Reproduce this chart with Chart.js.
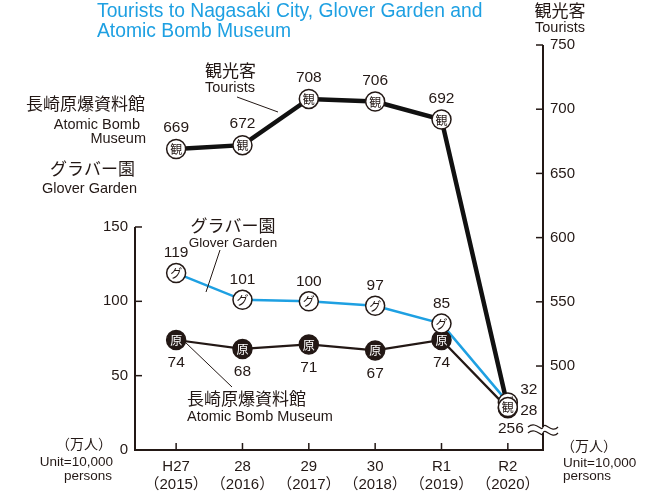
<!DOCTYPE html>
<html>
<head>
<meta charset="utf-8">
<script src="https://cdn.jsdelivr.net/npm/chart.js@4.4.1/dist/chart.umd.min.js"></script>
<style>
  html, body { margin: 0; padding: 0; background: #fff; }
  #wrap { width: 648px; height: 496px; position: relative; }
</style>
</head>
<body>
<div id="wrap"><canvas id="chart" width="648" height="496"></canvas></div>
<script>
// 年度と値（万人）
const years    = ['H27', '28', '29', '30', 'R1', 'R2'];
const yearsAD  = ['2015', '2016', '2017', '2018', '2019', '2020'];
const tourists = [669, 672, 708, 706, 692, 256];
const glover   = [119, 101, 100, 97, 85, 32];
const atomic   = [74, 68, 71, 67, 74, 28];
const leftTicks  = [0, 50, 100, 150];
const rightTicks = [500, 550, 600, 650, 700, 750];
// 右軸は 500 未満が省略（波線）なので、それ以下の値はこの位置に置く
const rightBreakAt = 468;

const INK  = '#231815';
const BLUE = '#1ea0e2';
const JP = '"Liberation Sans", "Noto Sans CJK JP", sans-serif';

const pts = (arr, brk) => arr.map((v, i) => ({ x: i, y: brk && v < 500 ? rightBreakAt : v }));

// 丸印（観・グ・原）
const markers = {
  id: 'markers',
  afterDatasetsDraw(chart) {
    const ctx = chart.ctx;
    const spec = [
      { ds: 2, ch: '原', fill: INK, ink: '#fff', r: 9.5 },
      { ds: 1, ch: 'グ', fill: '#fff', ink: INK, r: 9.5 },
      { ds: 0, ch: '観', fill: '#fff', ink: INK, r: 9.5 },
    ];
    ctx.save();
    spec.forEach(m => {
      chart.getDatasetMeta(m.ds).data.forEach(p => {
        ctx.beginPath();
        ctx.arc(p.x, p.y, m.r, 0, Math.PI * 2);
        ctx.fillStyle = m.fill; ctx.fill();
        ctx.lineWidth = 1.5; ctx.strokeStyle = INK; ctx.stroke();
        ctx.fillStyle = m.ink;
        ctx.font = '12px "Noto Sans CJK JP"';
        ctx.textAlign = 'center'; ctx.textBaseline = 'middle';
        ctx.fillText(m.ch, p.x, p.y + 0.5);
      });
    });
    ctx.restore();
  }
};

// 値ラベル・注記・軸を描く
const decor = {
  id: 'decor',
  afterDraw(chart) {
    const ctx = chart.ctx;
    const { x, y, y2 } = chart.scales;
    const area = chart.chartArea;
    const txt = (s, px, py, size, align, color) => {
      ctx.font = size + 'px ' + JP;
      ctx.fillStyle = color || INK;
      ctx.textAlign = align || 'center';
      ctx.textBaseline = 'middle';
      ctx.fillText(s, px, py);
    };
    const line = (x1, y1, x2, y2_, w) => {
      ctx.beginPath(); ctx.moveTo(x1, y1); ctx.lineTo(x2, y2_);
      ctx.lineWidth = w || 1; ctx.strokeStyle = INK; ctx.stroke();
    };
    ctx.save();

    // axes
    const yTop = y.getPixelForValue(150), y2Top = y2.getPixelForValue(750);
    line(area.left, yTop, area.left, area.bottom, 2);
    line(area.right, y2Top, area.right, area.bottom, 2);
    line(area.left - 1, area.bottom, area.right + 1, area.bottom, 2);
    leftTicks.forEach(v => { const p = y.getPixelForValue(v); line(area.left, p, area.left + 7, p, 1.5); });
    rightTicks.forEach(v => { const p = y2.getPixelForValue(v); line(area.right - 7, p, area.right, p, 1.5); });
    years.forEach((_, i) => { const p = x.getPixelForValue(i); line(p, area.bottom, p, area.bottom - 7, 1.5); });

    // axis break on the right scale
    const by = 430, bx1 = area.right - 15, bx2 = area.right + 15;
    const wave = (oy) => {
      ctx.beginPath();
      ctx.moveTo(bx1, oy);
      ctx.bezierCurveTo(bx1 + 8, oy - 7, bx1 + 14, oy + 6, bx1 + 15, oy);
      ctx.bezierCurveTo(bx1 + 17, oy - 6, bx2 - 6, oy + 7, bx2, oy);
    };
    ctx.fillStyle = '#fff';
    ctx.fillRect(area.right - 2, by - 3, 4, 6);
    ctx.lineWidth = 1.2; ctx.strokeStyle = INK;
    wave(by - 3); ctx.stroke();
    wave(by + 3); ctx.stroke();

    // value labels
    const metaT = chart.getDatasetMeta(0).data;
    const metaG = chart.getDatasetMeta(1).data;
    const metaA = chart.getDatasetMeta(2).data;
    tourists.forEach((v, i) => {
      const p = metaT[i];
      if (i === 5) txt(String(v), p.x + 3, p.y + 22, 15.5);
      else txt(String(v), p.x, p.y - 21, 15.5);
    });
    glover.forEach((v, i) => {
      const p = metaG[i];
      if (i === 5) txt(String(v), p.x + 21, p.y - 13, 15.5);
      else txt(String(v), p.x, p.y - 20, 15.5);
    });
    atomic.forEach((v, i) => {
      const p = metaA[i];
      if (i === 5) txt(String(v), p.x + 21, p.y + 2, 15.5);
      else txt(String(v), p.x, p.y + 23, 15.5);
    });

    // title
    txt('Tourists to Nagasaki City, Glover Garden and', 97, 12, 19.3, 'left', BLUE);
    txt('Atomic Bomb Museum', 97, 32, 19.3, 'left', BLUE);

    // axis titles
    txt('観光客', 560, 12, 17);
    txt('Tourists', 560, 28, 14.5);
    txt('長崎原爆資料館', 145, 105, 17, 'right');
    txt('Atomic Bomb', 140, 125, 14.5, 'right');
    txt('Museum', 146, 139, 14.5, 'right');
    txt('グラバー園', 135, 170, 17, 'right');
    txt('Glover Garden', 137, 189, 14.5, 'right');

    // series notes with leaders
    txt('観光客', 205, 72, 17, 'left');
    txt('Tourists', 205, 88, 14.5, 'left');
    line(237, 97, 278, 112);
    txt('グラバー園', 233, 227, 17);
    txt('Glover Garden', 233, 243, 13.5);
    line(220, 250, 206, 292);
    txt('長崎原爆資料館', 187, 400, 17, 'left');
    txt('Atomic Bomb Museum', 187, 417, 14.5, 'left');
    line(185, 342, 232, 387);

    // units
    txt('（万人）', 84, 445, 14);
    txt('Unit=10,000', 113, 462, 13.5, 'right');
    txt('persons', 112, 476, 13.5, 'right');
    txt('（万人）', 589, 447, 14);
    txt('Unit=10,000', 563, 463, 13.5, 'left');
    txt('persons', 563, 476, 13.5, 'left');
    ctx.restore();
  }
};

const bg = {
  id: 'bg',
  beforeDraw(chart) {
    const ctx = chart.ctx;
    ctx.save(); ctx.fillStyle = '#fff';
    ctx.fillRect(0, 0, chart.width, chart.height);
    ctx.restore();
  }
};

new Chart(document.getElementById('chart'), {
  type: 'line',
  data: {
    datasets: [
      {
        label: '観光客 Tourists',
        data: pts(tourists, true),
        yAxisID: 'y2',
        borderColor: '#111',
        borderWidth: 4.5,
        pointRadius: 0,
      },
      {
        label: 'グラバー園 Glover Garden',
        data: pts(glover),
        yAxisID: 'y',
        borderColor: BLUE,
        borderWidth: 2.5,
        pointRadius: 0,
      },
      {
        label: '長崎原爆資料館 Atomic Bomb Museum',
        data: pts(atomic),
        yAxisID: 'y',
        borderColor: INK,
        borderWidth: 2.2,
        pointRadius: 0,
      },
    ]
  },
  options: {
    responsive: false,
    animation: false,
    layout: { padding: { top: 45, left: 0, right: 0, bottom: 0 } },
    plugins: { legend: { display: false }, tooltip: { enabled: false } },
    scales: {
      x: {
        type: 'linear',
        min: -0.62,
        max: 5.53,
        afterBuildTicks: s => { s.ticks = years.map((_, i) => ({ value: i })); },
        afterFit: s => { s.height = 46; },
        grid: { display: false, drawTicks: false },
        border: { display: false },
        ticks: {
          padding: 7,
          color: INK,
          font: { family: JP, size: 15, lineHeight: 1.25 },
          maxRotation: 0,
          callback: v => [years[v], '（' + yearsAD[v] + '）'],
        }
      },
      y: {
        position: 'left',
        min: 0,
        max: 272.4,
        afterBuildTicks: s => { s.ticks = leftTicks.map(v => ({ value: v })); },
        afterFit: s => { s.width = 135; },
        grid: { display: false, drawTicks: false },
        border: { display: false },
        ticks: { padding: 7, color: INK, font: { family: JP, size: 15 } }
      },
      y2: {
        position: 'right',
        min: 434.6,
        max: 750,
        afterBuildTicks: s => { s.ticks = rightTicks.map(v => ({ value: v })); },
        afterFit: s => { s.width = 105; },
        grid: { display: false, drawTicks: false },
        border: { display: false },
        ticks: { padding: 7, color: INK, font: { family: JP, size: 15 } }
      }
    }
  },
  plugins: [bg, markers, decor]
});
</script>
</body>
</html>
